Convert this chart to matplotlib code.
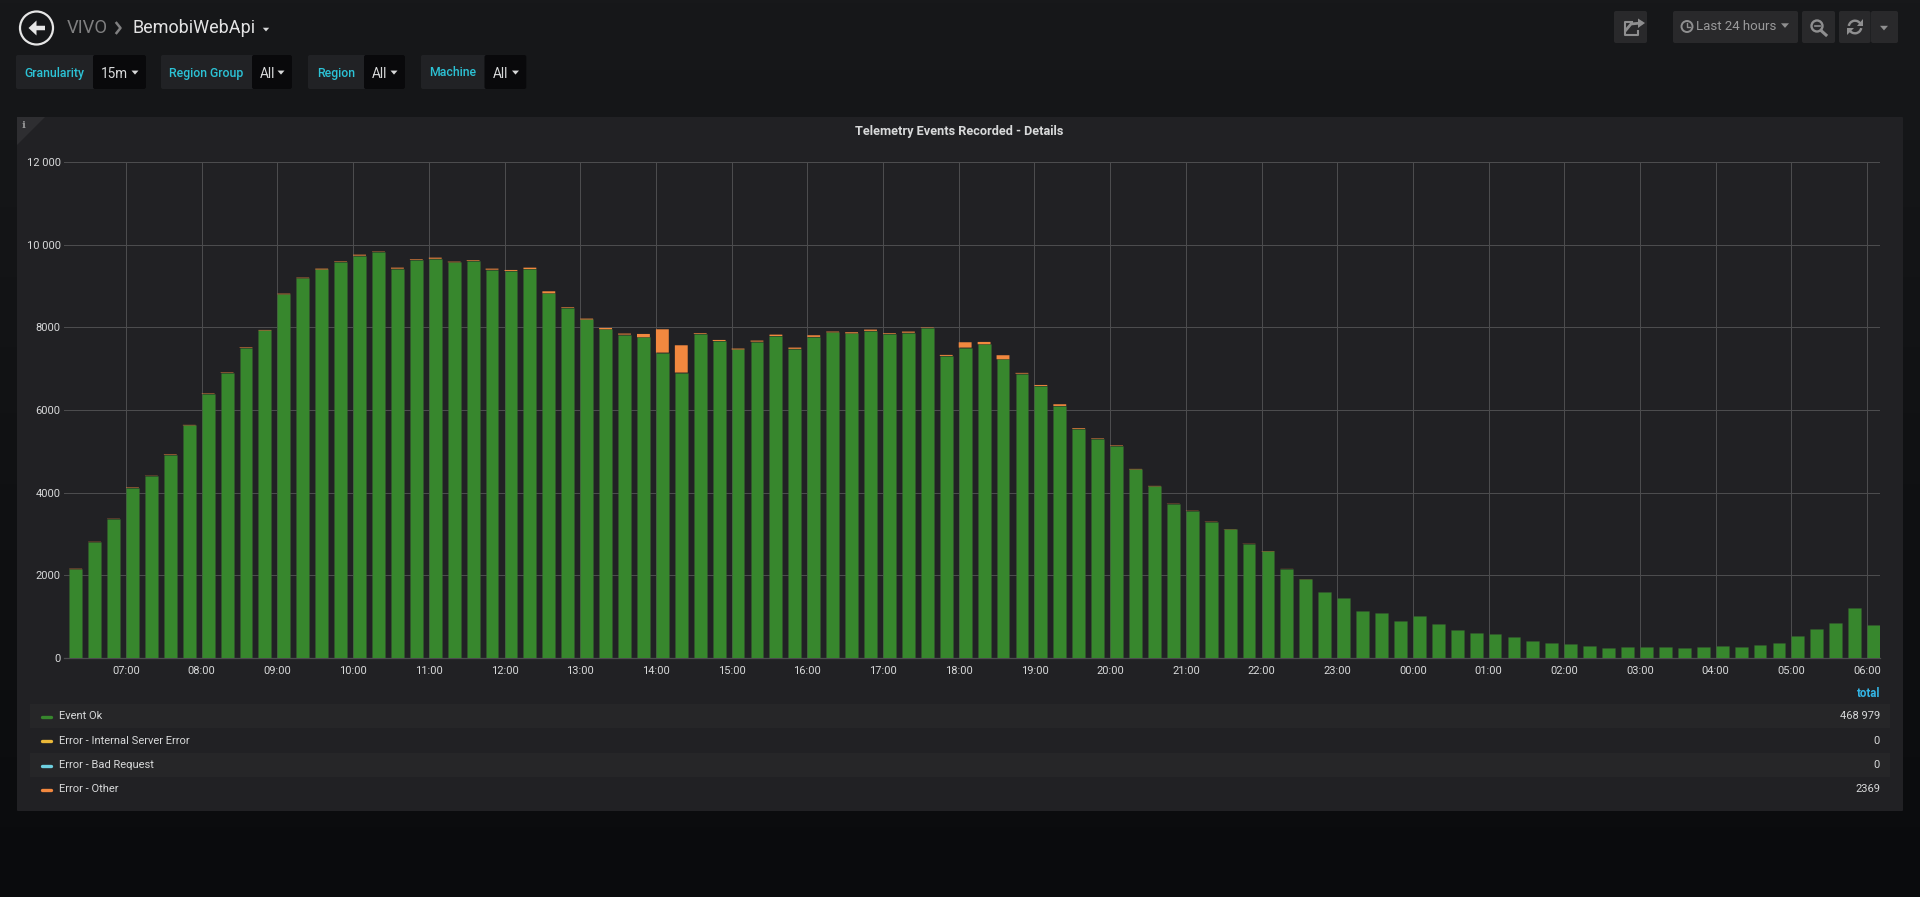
import numpy as np
import pandas as pd
import matplotlib
matplotlib.use('Agg')
import matplotlib.pyplot as plt
import matplotlib.dates as mdates
from matplotlib.patches import FancyBboxPatch, Rectangle, Polygon, Circle, Wedge, FancyArrow

plt.rcParams['font.family'] = ['Roboto', 'DejaVu Sans']

# 1. Data
times = pd.date_range('2018-06-01 06:15', periods=96, freq='15min')

event_ok = [2150, 2805, 3370, 4115, 4410, 4920, 5630, 6395, 6895, 7505, 7925, 8800, 9190, 9400, 9585, 9735, 9830, 9420, 9630, 9660,
            9575, 9605, 9395, 9365, 9410, 8824, 8470, 8190, 7953, 7825, 7760, 7389, 6906, 7840, 7670, 7465, 7655, 7790, 7480, 7768,
            7880, 7855, 7915, 7840, 7870, 7990, 7309, 7510, 7591, 7228, 6880, 6582, 6098, 5540, 5305, 5135, 4565, 4155, 3735, 3560,
            3290, 3115, 2760, 2580, 2165, 1900, 1606, 1445, 1148, 1100, 899, 1028, 819, 683, 610, 586, 514, 418, 361, 345,
            289, 241, 265, 273, 265, 249, 265, 289, 265, 313, 369, 522, 699, 835, 1205, 803]
error_internal = [0] * 96
error_bad_request = [0] * 96
error_other = [10, 7, 6, 11, 6, 12, 10, 11, 11, 13, 12, 15, 12, 20, 12, 23, 9, 24, 15, 26,
               14, 16, 25, 23, 34, 48, 15, 21, 32, 24, 80, 564, 660, 17, 25, 21, 24, 34, 30, 40,
               17, 26, 30, 17, 27, 10, 24, 129, 56, 97, 18, 24, 41, 18, 12, 12, 10, 9, 6, 6,
               7, 5, 5, 7, 3, 3, 0, 0, 0, 0, 0, 0, 0, 0, 0, 0, 0, 0, 0, 0,
               0, 0, 0, 0, 0, 0, 0, 0, 0, 0, 0, 0, 0, 0, 0, 0]

y_ticks = [0, 2000, 4000, 6000, 8000, 10000, 12000]
y_labels = ['0', '2000', '4000', '6000', '8000', '10 000', '12 000']
legend_names = ['Event Ok', 'Error - Internal Server Error', 'Error - Bad Request', 'Error - Other']
legend_totals = ['468 979', '0', '0', '2369']
colors = ['#37872D', '#EAB839', '#6ED0E0', '#F2883F']

W, H = 1920, 897
fig = plt.figure(figsize=(W / 100, H / 100), dpi=100)

# 2. Page background and dashboard chrome, in pixel coordinates
ui = fig.add_axes([0, 0, 1, 1], zorder=0)
ui.axis('off')
grad = np.linspace(0, 1, 256).reshape(-1, 1, 1)
top = np.array([0x17, 0x18, 0x1a]) / 255
bot = np.array([0x0a, 0x0b, 0x0d]) / 255
ui.imshow(top + (bot - top) * grad, extent=[0, W, H, 0], aspect='auto', zorder=0)
ui.set_xlim(0, W)
ui.set_ylim(H, 0)


def box(x0, y0, x1, y1, color, z=1, r=2):
    ui.add_patch(FancyBboxPatch((x0 + r, y0 + r), x1 - x0 - 2 * r, y1 - y0 - 2 * r,
                                boxstyle=f'round,pad={r},rounding_size={r}',
                                fc=color, ec='none', zorder=z))


def caret(x, y, color, s=4):
    ui.add_patch(Polygon([(x - s, y - s * 0.55), (x + s, y - s * 0.55), (x, y + s * 0.6)],
                         fc=color, ec='none', zorder=4))


# back button
ui.add_patch(Circle((36.5, 28), 16.5, fc='none', ec='#e6e6e6', lw=1.6, zorder=3))
ui.add_patch(FancyArrow(45, 28, -16.5, 0, width=4.5, head_width=15, head_length=8,
                        length_includes_head=True, fc='#e6e6e6', ec='none', zorder=3))

ui.text(67, 28, 'VIVO', color='#7f7f80', fontsize=13.2, va='center', zorder=4)
ui.plot([116.5, 120.5, 116.5], [23, 28, 33], color='#808081', lw=1.8, zorder=4)
ui.text(132, 28, 'BemobiWebApi', color='#e3e3e4', fontsize=13, va='center', zorder=4)
caret(266, 29.5, '#d8d9da', 3.2)

# template variables
var_boxes = [('Granularity', '15m', 16, 93, 146),
             ('Region Group', 'All', 161, 252, 292),
             ('Region', 'All', 308, 364, 405),
             ('Machine', 'All', 421, 484.5, 526.5)]
for name, val, x0, xm, x1 in var_boxes:
    box(x0, 55, x1, 89, '#212225', z=1)
    box(xm, 55, x1, 89, '#09090b', z=2)
    ui.text((x0 + xm) / 2, 73, name, color='#2cc3d6', fontsize=8.8, fontweight='medium',
            ha='center', va='center', zorder=4)
    ui.text(xm + 8, 74, val, color='#d8d9da', fontsize=9.8, va='center', zorder=4)
    caret(x1 - 11, 72.5, '#d8d9da', 3.5)

# toolbar buttons
for x0, x1 in [(1614, 1647), (1673, 1798), (1802, 1835), (1839, 1870.5), (1871, 1898)]:
    box(x0, 11, x1, 43, '#29292b', z=1)
icon = '#8f8f90'
ui.plot([1626, 1631, 1641], [30, 24, 23], color=icon, lw=2, zorder=4)
ui.add_patch(Polygon([(1638, 18.5), (1638, 28), (1645, 23)], fc=icon, ec='none', zorder=4))
ui.plot([1632, 1625, 1625, 1638, 1638], [22, 22, 35, 35, 31], color=icon, lw=1.5, zorder=4)
ui.add_patch(Circle((1687, 26.5), 5.5, fc='none', ec=icon, lw=1.4, zorder=4))
ui.plot([1687, 1687, 1690], [23, 27, 27], color=icon, lw=1, zorder=4)
ui.text(1696, 27, 'Last 24 hours', color='#9a9a9b', fontsize=9.5, va='center', zorder=4)
caret(1785, 25.5, icon, 4)
ui.add_patch(Circle((1817, 26), 5.5, fc='none', ec=icon, lw=1.7, zorder=4))
ui.plot([1814.5, 1819.5], [26, 26], color=icon, lw=1.2, zorder=4)
ui.plot([1821, 1826], [30.5, 35], color=icon, lw=2.2, zorder=4)
ui.add_patch(Wedge((1855, 27), 7.5, 190, 330, width=2.4, fc=icon, ec='none', zorder=4))
ui.add_patch(Wedge((1855, 27), 7.5, 10, 150, width=2.4, fc=icon, ec='none', zorder=4))
ui.add_patch(Polygon([(1863, 19), (1863, 26), (1856.5, 26)], fc=icon, ec='none', zorder=4))
ui.add_patch(Polygon([(1847, 35), (1847, 28), (1853.5, 28)], fc=icon, ec='none', zorder=4))
caret(1884, 28, icon, 4)

# panel
box(17, 117, 1903, 811, '#212124', z=1, r=1)
ui.add_patch(Polygon([(17, 117), (45, 117), (17, 145)], fc='#2e2e31', ec='none', zorder=2))
ui.text(24, 125.5, 'i', color='#9a9a9b', fontsize=7.5, family='DejaVu Serif', fontweight='bold',
        ha='center', va='center', zorder=3)
ui.text(959.5, 131, 'Telemetry Events Recorded - Details', color='#d8d9da', fontsize=9.2,
        fontweight='bold', ha='center', va='center', zorder=3)

# legend table
ui.text(1880, 693.5, 'total', color='#33b5e5', fontsize=8.3, fontweight='bold', ha='right', va='center', zorder=3)
row_y = [716, 740.5, 765, 789.5]
for i, (name, total, c) in enumerate(zip(legend_names, legend_totals, colors)):
    if i % 2 == 0:
        ui.add_patch(Rectangle((30, row_y[i] - 12), 1860, 24, fc='#262628', ec='none', zorder=2))
    ui.plot([41.5, 50.5], [row_y[i] + 0.8] * 2, color=c, lw=2.4, solid_capstyle='round', zorder=3)
    ui.text(59, row_y[i], name, color='#d8d9da', fontsize=8, va='center', zorder=3)
    ui.text(1880, row_y[i], total, color='#d8d9da', fontsize=8, ha='right', va='center', zorder=3)

# 3. Chart
x0, x1, y0, y1 = 64.2, 1880, 658, 162
ax = fig.add_axes([x0 / W, 1 - y0 / H, (x1 - x0) / W, (y0 - y1) / H], zorder=2)
ax.patch.set_alpha(0)

width = pd.Timedelta(minutes=10.2)
series = [event_ok, error_internal, error_bad_request, error_other]
bottom = np.zeros(len(times))
for values, c in zip(series, colors):
    values = np.array(values, dtype=float)
    bars = ax.bar(times, values, width=width, bottom=bottom, align='edge', color=c,
                  edgecolor=(0.24, 0.36, 0.22, 0.35) if c == colors[0] else 'none', linewidth=0.5, zorder=3)
    # thin error slices stay faint instead of snapping to a full pixel
    if c != colors[0]:
        for p in bars:
            p.set_snap(False)
    bottom += values

ax.set_xlim(times[0] - pd.Timedelta(minutes=4), times[-1] + pd.Timedelta(minutes=10.2))
ax.set_ylim(0, 12000)
ax.set_yticks(y_ticks)
ax.set_yticklabels(y_labels)
ax.xaxis.set_major_locator(mdates.HourLocator())
ax.xaxis.set_major_formatter(mdates.DateFormatter('%H:%M'))
ax.grid(True, color='#4c4c4e', lw=0.72, zorder=1)
ax.set_axisbelow(True)
ax.tick_params(length=0, colors='#d8d9da', labelsize=8, pad=6)
ax.tick_params(axis='y', pad=2.5)
for s in ['top', 'right', 'left']:
    ax.spines[s].set_visible(False)
ax.spines['bottom'].set_color('#4c4c4e')
ax.spines['bottom'].set_linewidth(0.9)

fig.savefig('out.png', dpi=100)
